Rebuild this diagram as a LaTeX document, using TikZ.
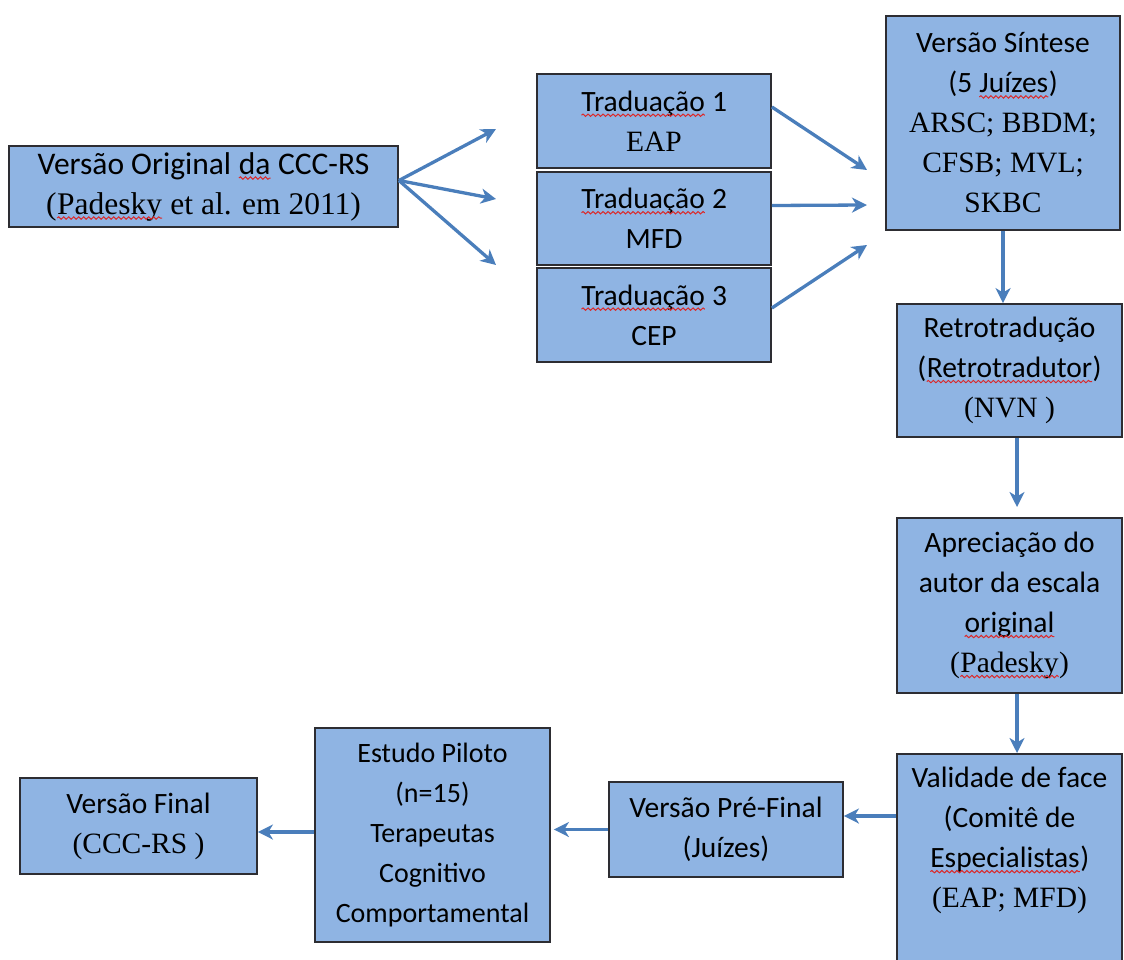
\documentclass[tikz,border=0pt]{standalone}
\usepackage{fontspec}
\setmainfont{Carlito}
\newfontfamily\tms{Liberation Serif}
\usetikzlibrary{arrows.meta,decorations.pathmorphing}
\definecolor{boxfill}{RGB}{143,180,227}
\definecolor{boxline}{RGB}{45,45,50}
\definecolor{flowblue}{RGB}{74,126,187}
\definecolor{spellred}{RGB}{220,40,40}
\newcommand{\spell}[1]{\tikz[baseline=(w.base),every node/.style={}]{\node[inner sep=0pt,outer sep=0pt,minimum width=0pt,minimum height=0pt,draw=none,fill=none,anchor=base] (w) {#1};
	\draw[spellred,line width=1pt,decorate,decoration={snake,amplitude=1.2pt,segment length=5pt}] ([yshift=-4pt]w.base west) -- ([yshift=-4pt]w.base east);}}

\begin{document}
\begin{tikzpicture}[x=1pt,y=-1pt,
	box/.style={draw=boxline,line width=1.8pt,fill=boxfill,align=center,inner sep=0pt,font=\fontsize{29.5}{40}\selectfont},
	flow/.style={draw=flowblue,line width=3.3pt},
	>={Stealth[length=15pt,width=15pt,inset=4.5pt]}]
			\useasboundingbox (0,0) rectangle (1124,960);
			\begin{scope}[every node/.style={box}]
	    		\node[minimum width=389,minimum height=81,font=\fontsize{31.5}{40}\selectfont] (orig) at (203.5,186.5) {Versão Original \spell{da} CCC-RS\\{\tms(\spell{Padesky} et al. em 2011)}};
	    		\node[minimum width=234,minimum height=94] (trad1) at (654,121) {\spell{Traduação} 1\\{\tms EAP}};
	    		\node[minimum width=234,minimum height=93] (trad2) at (654,218.5) {\spell{Traduação} 2\\MFD};
	    		\node[minimum width=234,minimum height=94] (trad3) at (654,315) {\spell{Traduação} 3\\CEP};
	    		\node[minimum width=234,minimum height=214] (sint) at (1003,123) {Versão Síntese\\(5 \spell{Juízes})\\{\tms ARSC; BBDM;}\\{\tms CFSB; MVL;}\\{\tms SKBC}};
	    		\node[minimum width=225,minimum height=133] (retro) at (1009.5,370.5) {Retrotradução\\(\spell{Retrotradutor})\\{\tms(NVN )}};
	    		\node[minimum width=225,minimum height=175] (aprec) at (1009.5,605.5) {Apreciação do\\autor da escala\\\spell{original}\\{\tms(\spell{Padesky})}};
	    		\node[minimum width=225,minimum height=250,anchor=north] (valid) at (1009.5,753) {};
	    		\node[minimum width=234,minimum height=95] (prefin) at (726,829.5) {Versão Pré-Final\\(Juízes)};
	    		\node[minimum width=235,minimum height=214,font=\fontsize{28}{40}\selectfont] (estudo) at (432.5,835) {Estudo Piloto\\(n=15)\\Terapeutas\\Cognitivo\\Comportamental};
	    		\node[minimum width=237,minimum height=96] (final) at (138.5,826) {Versão Final\\{\tms(CCC-RS )}};
			\end{scope}
			\node[align=center,anchor=north,inner sep=0pt,font=\fontsize{29.5}{40}\selectfont] (validtext) at ([yshift=-14pt]valid.north) {Validade de face\\(Comitê de\\\spell{Especialistas})\\{\tms(EAP; MFD)}};
	
			\coordinate (o1) at (496,129);
			\coordinate (o2) at (496,199);
			\coordinate (o3) at (496,265);
			\coordinate (s1) at (867,170);
			\coordinate (s2) at (867,205);
			\coordinate (s3) at (867,245);
			\coordinate (a1) at (1017,507);
			\begin{scope}[every edge/.style={flow}]
				\path [->] ([yshift=6pt]orig.east) edge (o1);
	    		\path [->] ([yshift=6pt]orig.east) edge (o2);
	    		\path [->] ([yshift=6pt]orig.east) edge (o3);
	    		\path [->] ([yshift=14pt]trad1.east) edge (s1);
	    		\path [->] ([yshift=13pt]trad2.east) edge (s2);
	    		\path [->] ([yshift=7pt]trad3.east) edge (s3);
	    		\path [->] (sint.south) edge (sint.south |- retro.north);
	    		\path [->] (retro.south -| a1) edge (a1);
	    		\path [->] ([xshift=7.5pt]aprec.south) edge ([xshift=7.5pt]valid.north);
	    		\path [->] ([yshift=13.5pt]prefin.east -| valid.west) edge ([yshift=13.5pt]prefin.east);
	    		\path [->] (prefin.west) edge ([xshift=3pt]prefin.west -| estudo.east);
	    		\path [->] ([yshift=-6pt]final.east -| estudo.west) edge ([yshift=-6pt]final.east);
			\end{scope}
		\end{tikzpicture}
\end{document}
